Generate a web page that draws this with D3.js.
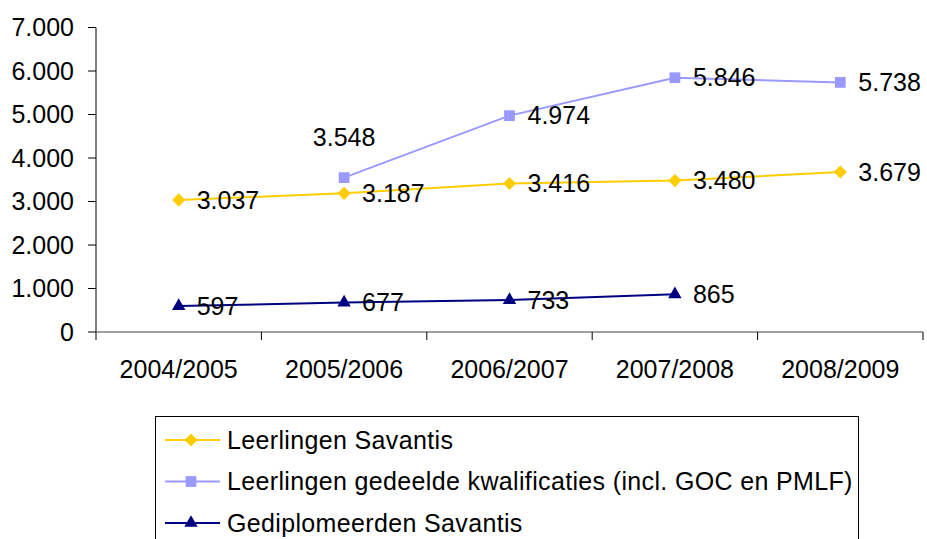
<!DOCTYPE html>
<html><head><meta charset="utf-8">
<script src="https://cdn.jsdelivr.net/npm/d3@7"></script>
<style>body{margin:0;background:#fff}svg{display:block}text{font-family:"Liberation Sans",Arial,sans-serif;fill:#000}</style>
</head><body>
<script>
const categories = ["2004/2005","2005/2006","2006/2007","2007/2008","2008/2009"];
const leerlingen = [3037,3187,3416,3480,3679];
const gedeeld = [null,3548,4974,5846,5738];
const gediplomeerd = [597,677,733,865,null];
const yTicks = [0,1000,2000,3000,4000,5000,6000,7000];
const seriesNames = ["Leerlingen Savantis","Leerlingen gedeelde kwalificaties (incl. GOC en PMLF)","Gediplomeerden Savantis"];

const W=927,H=539;
const svg=d3.select("body").append("svg").attr("width",W).attr("height",H);
const x=d3.scaleBand().domain(categories).range([96,923]);
const y=d3.scaleLinear().domain([0,7000]).range([332,27.5]);
const fmt=v=>d3.format(",")(v).replace(/,/g,".");
const FS=25;

// y axis
svg.append("line").attr("x1",96).attr("x2",96).attr("y1",y(7000)).attr("y2",y(0)).attr("stroke","#000").attr("stroke-width",1);
yTicks.forEach(t=>{
  svg.append("line").attr("x1",88).attr("x2",96).attr("y1",y(t)).attr("y2",y(t)).attr("stroke","#000");
  svg.append("text").attr("x",74).attr("y",y(t)).attr("dy","0.35em").attr("text-anchor","end").attr("font-size",FS).text(fmt(t));
});
// x axis
svg.append("line").attr("x1",96).attr("x2",923).attr("y1",y(0)).attr("y2",y(0)).attr("stroke","#808080").attr("stroke-width",1.5);
categories.forEach((c,i)=>{
  const xe=x(c)+x.bandwidth();
  svg.append("line").attr("x1",xe).attr("x2",xe).attr("y1",y(0)).attr("y2",y(0)+8).attr("stroke","#000");
  svg.append("text").attr("x",x(c)+x.bandwidth()/2).attr("y",378).attr("text-anchor","middle").attr("font-size",FS).text(c);
});
svg.append("line").attr("x1",96).attr("x2",96).attr("y1",y(0)).attr("y2",y(0)+8).attr("stroke","#000");

const cx=c=>x(c)+x.bandwidth()/2;
const diamond={draw(ctx,size){const r=Math.sqrt(size/2);ctx.moveTo(0,-r);ctx.lineTo(r,0);ctx.lineTo(0,r);ctx.lineTo(-r,0);ctx.closePath();}};
const series=[
  {name:seriesNames[0],vals:leerlingen,color:"#FFCC00",sym:diamond,size:85},
  {name:seriesNames[1],vals:gedeeld,color:"#9999FF",sym:d3.symbolSquare,size:115},
  {name:seriesNames[2],vals:gediplomeerd,color:"#000080",sym:d3.symbolTriangle,size:78}
];
series.forEach(s=>{
  const pts=categories.map((c,i)=>({c,v:s.vals[i]})).filter(d=>d.v!=null);
  svg.append("path").attr("d",d3.line().x(d=>cx(d.c)).y(d=>y(d.v))(pts)).attr("fill","none").attr("stroke",s.color).attr("stroke-width",2);
  pts.forEach(d=>{
    svg.append("path").attr("d",d3.symbol().type(s.sym).size(s.size)()).attr("transform",`translate(${cx(d.c)},${y(d.v)})`).attr("fill",s.color);
  });
});
// data labels
series.forEach((s,si)=>{
  categories.forEach((c,i)=>{
    const v=s.vals[i]; if(v==null) return;
    if(si===1 && i===1){
      svg.append("text").attr("x",cx(c)).attr("y",y(v)-40).attr("dy","0.35em").attr("text-anchor","middle").attr("font-size",FS).text(fmt(v));
    } else {
      svg.append("text").attr("x",cx(c)+18).attr("y",y(v)).attr("dy","0.35em").attr("font-size",FS).text(fmt(v));
    }
  });
});
// legend
svg.append("rect").attr("x",155.5).attr("y",416.5).attr("width",703).attr("height",140).attr("fill","none").attr("stroke","#000");
series.forEach((s,i)=>{
  const ly=440+i*41.5;
  svg.append("line").attr("x1",165).attr("x2",220).attr("y1",ly).attr("y2",ly).attr("stroke",s.color).attr("stroke-width",2);
  svg.append("path").attr("d",d3.symbol().type(s.sym).size(s.size)()).attr("transform",`translate(191,${ly})`).attr("fill",s.color);
  svg.append("text").attr("x",227).attr("y",ly).attr("dy","0.35em").attr("font-size",FS).attr("letter-spacing",0.35).text(s.name);
});
</script>
</body></html>
